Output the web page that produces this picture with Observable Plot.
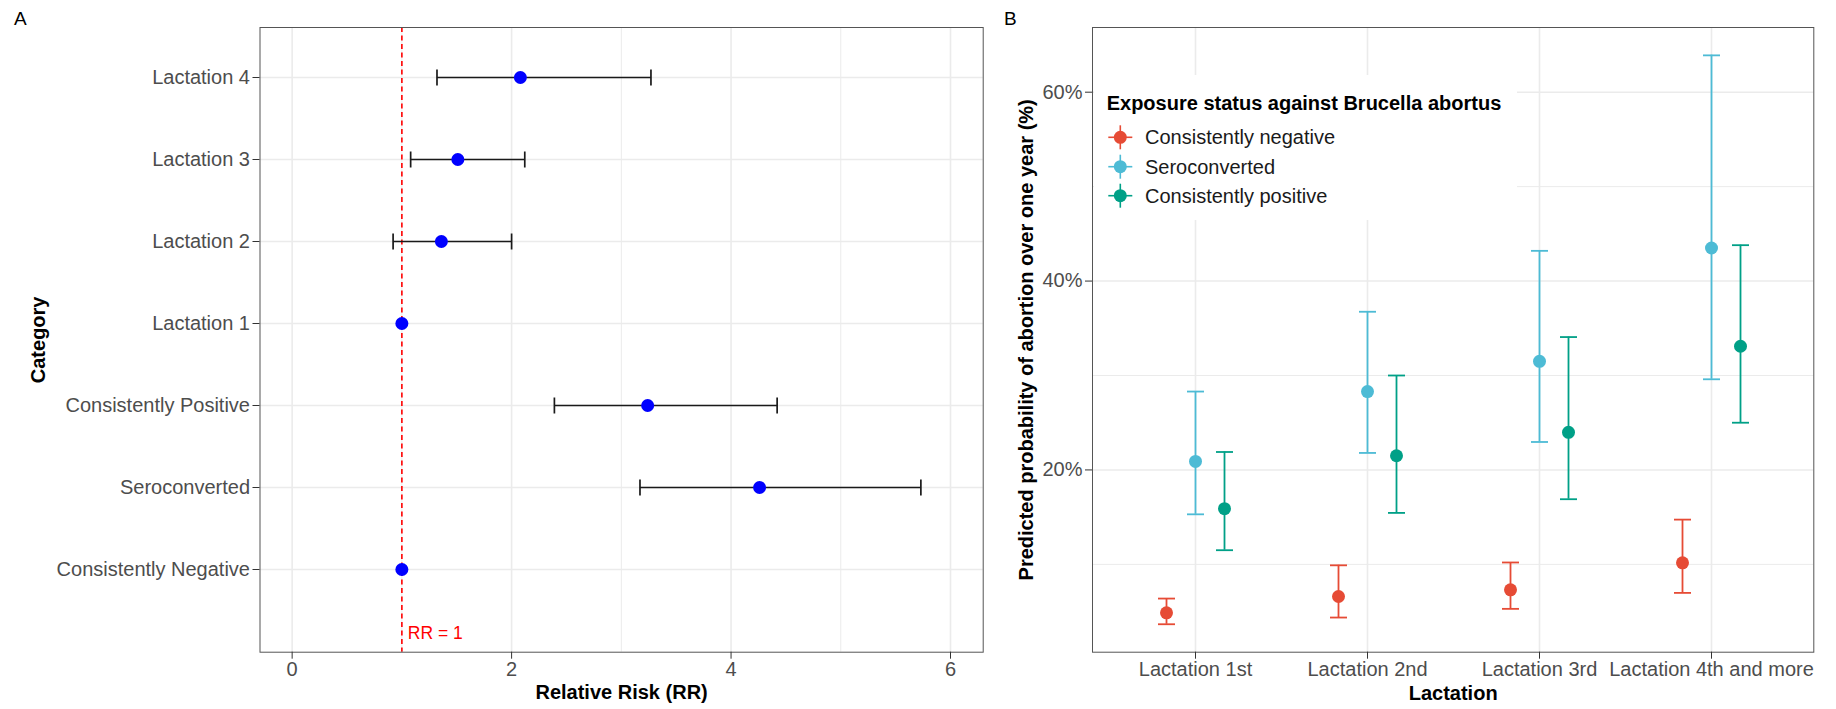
<!DOCTYPE html>
<html><head><meta charset="utf-8">
<script src="https://cdn.jsdelivr.net/npm/d3@7"></script>
<script src="https://cdn.jsdelivr.net/npm/@observablehq/plot@0.6"></script>
<style>
body{margin:0;background:#fff;}
#fig{position:relative;width:1836px;height:709px;font-family:"Liberation Sans",Arial,Helvetica,sans-serif;overflow:hidden;}
#fig > *{position:absolute;}
.tag{font-size:19px;color:#000;line-height:1;}
</style></head><body><div id="fig"></div>
<script>
// ---------- Panel A data ----------
const categoriesA = ["Lactation 4","Lactation 3","Lactation 2","Lactation 1","Consistently Positive","Seroconverted","Consistently Negative"];
const rrEstimate = [2.08, 1.51, 1.36, 1.00, 3.24, 4.26, 1.00];
const rrLower    = [1.32, 1.08, 0.92, null, 2.39, 3.17, null];
const rrUpper    = [3.27, 2.12, 2.00, null, 4.42, 5.73, null];
const referenceRR = 1;
const ticksA = [0, 2, 4, 6];
const minorTicksA = [1, 3, 5];

// ---------- Panel B data ----------
const lactations = ["Lactation 1st","Lactation 2nd","Lactation 3rd","Lactation 4th and more"];
const groups = ["Consistently negative","Seroconverted","Consistently positive"];
const negativeEst  = [4.87, 6.60, 7.30, 10.16];
const negativeLow  = [3.66, 4.37, 5.29, 6.98];
const negativeHigh = [6.38, 9.90, 10.20, 14.74];
const seroEst  = [20.9, 28.3, 31.5, 43.5];
const seroLow  = [15.3, 21.8, 22.96, 29.6];
const seroHigh = [28.3, 36.75, 43.2, 63.9];
const positiveEst  = [15.9, 21.5, 23.98, 33.1];
const positiveLow  = [11.5, 15.45, 16.9, 25.0];
const positiveHigh = [21.9, 30.0, 34.07, 43.8];
const ticksB = [20, 40, 60];
const minorTicksB = [10, 30, 50];

// ---------- style ----------
const FONT = '"Liberation Sans", Arial, Helvetica, sans-serif';
const groupColors = ["#E64B35", "#4DBBD5", "#00A087"];
const dodge = [-29, 0, 29];
const GRID = "#EBEBEB";
// error-bar cap glyphs (custom symbols for Plot.dot)
const capVertical = {draw(ctx) { ctx.moveTo(0, -8); ctx.lineTo(0, 8); }};
const capHorizontal = {draw(ctx) { ctx.moveTo(-8.5, 0); ctx.lineTo(8.5, 0); }};

const fig = document.getElementById("fig");

// ---------- Panel A ----------
const dataA = categoriesA.map((c, i) => ({category: c, rr: rrEstimate[i], lower: rrLower[i], upper: rrUpper[i]}));
const withCI = dataA.filter(d => d.lower != null);

const plotA = Plot.plot({
  width: 990, height: 709,
  marginLeft: 259.5, marginRight: 7.3, marginTop: 27, marginBottom: 57.3,
  style: {fontFamily: FONT, fontSize: "20px", background: "transparent", overflow: "visible"},
  x: {domain: [-0.293, 6.298]},
  y: {type: "point", domain: categoriesA, padding: 0, insetTop: 48.7, insetBottom: 81.7},
  marks: [
    Plot.gridX(minorTicksA, {stroke: GRID, strokeOpacity: 1, strokeWidth: 1}),
    Plot.gridX(ticksA, {stroke: GRID, strokeOpacity: 1, strokeWidth: 1.6}),
    Plot.gridY(categoriesA, {stroke: GRID, strokeOpacity: 1, strokeWidth: 1.6}),
    Plot.ruleX([referenceRR], {stroke: "#FF0000", strokeWidth: 1.6, strokeDasharray: "5,3.5"}),
    Plot.link(withCI, {x1: "lower", x2: "upper", y1: "category", y2: "category", stroke: "#1a1a1a", strokeWidth: 1.7}),
    Plot.dot(withCI, {x: "lower", y: "category", symbol: capVertical, fill: "none", stroke: "#1a1a1a", strokeWidth: 1.7}),
    Plot.dot(withCI, {x: "upper", y: "category", symbol: capVertical, fill: "none", stroke: "#1a1a1a", strokeWidth: 1.7}),
    Plot.dot(dataA, {x: "rr", y: "category", r: 6.5, fill: "#0000FF"}),
    Plot.text([referenceRR], {x: d => d, text: () => "RR = 1", frameAnchor: "bottom", lineAnchor: "middle", dy: -19, dx: 6, textAnchor: "start", fill: "#FF0000", fontSize: 17.5}),
    Plot.frame({stroke: "#555", strokeWidth: 1}),
    Plot.axisX({ticks: ticksA, tickFormat: d3.format("d"), tickSize: 7, tickPadding: 3, label: null, stroke: "#333", fill: "#4D4D4D"}),
    Plot.axisY({tickSize: 7, tickPadding: 3, label: null, stroke: "#333", fill: "#4D4D4D"}),
    Plot.text(["Relative Risk (RR)"], {text: d => d, frameAnchor: "bottom", lineAnchor: "middle", dy: 40, fontWeight: "bold", fill: "#000"}),
    Plot.text(["Category"], {text: d => d, frameAnchor: "left", textAnchor: "middle", lineAnchor: "middle", dx: -221.5, rotate: -90, fontWeight: "bold", fill: "#000"})
  ]
});
plotA.style.left = "0px"; plotA.style.top = "0px";
fig.appendChild(plotA);

// ---------- Panel B ----------
const seriesB = [
  {est: negativeEst, low: negativeLow, high: negativeHigh},
  {est: seroEst, low: seroLow, high: seroHigh},
  {est: positiveEst, low: positiveLow, high: positiveHigh}
].map((s, gi) => lactations.map((l, li) => ({group: groups[gi], lactation: l, est: s.est[li], low: s.low[li], high: s.high[li]})));

const barMarks = seriesB.flatMap((d, gi) => [
  Plot.ruleX(d, {x: "lactation", y1: "low", y2: "high", stroke: groupColors[gi], strokeWidth: 1.8, dx: dodge[gi]}),
  Plot.dot(d, {x: "lactation", y: "low", symbol: capHorizontal, fill: "none", stroke: groupColors[gi], strokeWidth: 1.8, dx: dodge[gi]}),
  Plot.dot(d, {x: "lactation", y: "high", symbol: capHorizontal, fill: "none", stroke: groupColors[gi], strokeWidth: 1.8, dx: dodge[gi]})
]);
const dotMarks = seriesB.map((d, gi) => Plot.dot(d, {x: "lactation", y: "est", r: 6.5, fill: groupColors[gi], dx: dodge[gi]}));

const plotB = Plot.plot({
  width: 846, height: 709,
  marginLeft: 102, marginRight: 22.7, marginTop: 27, marginBottom: 57.3,
  style: {fontFamily: FONT, fontSize: "20px", background: "transparent", overflow: "visible"},
  x: {type: "point", domain: lactations, padding: 0.59},
  y: {domain: [0.70, 66.85]},
  marks: [
    Plot.gridY(minorTicksB, {stroke: GRID, strokeOpacity: 1, strokeWidth: 1}),
    Plot.gridY(ticksB, {stroke: GRID, strokeOpacity: 1, strokeWidth: 1.6}),
    Plot.gridX(lactations, {stroke: GRID, strokeOpacity: 1, strokeWidth: 1.6}),
    ...barMarks,
    ...dotMarks,
    Plot.frame({stroke: "#555", strokeWidth: 1}),
    Plot.axisX({tickSize: 7, tickPadding: 3, label: null, stroke: "#333", fill: "#4D4D4D"}),
    Plot.axisY({ticks: ticksB, tickFormat: d => d + "%", tickSize: 7, tickPadding: 3, label: null, stroke: "#333", fill: "#4D4D4D"}),
    Plot.text(["Lactation"], {text: d => d, frameAnchor: "bottom", lineAnchor: "middle", dy: 41, fontWeight: "bold", fill: "#000"}),
    Plot.text(["Predicted probability of abortion over one year (%)"], {text: d => d, frameAnchor: "left", textAnchor: "middle", lineAnchor: "middle", dx: -66, rotate: -90, fontWeight: "bold", fill: "#000"})
  ]
});
plotB.style.left = "990px"; plotB.style.top = "0px";
fig.appendChild(plotB);

// ---------- Legend (inside panel B) ----------
const legW = 423, legH = 145;
const leg = d3.create("svg").attr("width", legW).attr("height", legH)
  .style("left", "1094px").style("top", "75px").style("background", "#fff")
  .style("font-family", FONT);
leg.append("text").attr("x", 12.7).attr("y", 28.3).attr("dy", "0.35em")
  .attr("font-size", 20).attr("font-weight", "bold").attr("fill", "#000")
  .text("Exposure status against Brucella abortus");
const rows = [62.3, 91.7, 120.7];
groups.forEach((g, i) => {
  const gr = leg.append("g").attr("transform", `translate(26.3,${rows[i]})`);
  gr.append("line").attr("x1", -12).attr("x2", 12).attr("y1", 0).attr("y2", 0).attr("stroke", groupColors[i]).attr("stroke-width", 1.6);
  gr.append("line").attr("x1", 0).attr("x2", 0).attr("y1", -12).attr("y2", 12).attr("stroke", groupColors[i]).attr("stroke-width", 1.6);
  gr.append("circle").attr("r", 6.5).attr("fill", groupColors[i]);
  leg.append("text").attr("x", 51).attr("y", rows[i]).attr("dy", "0.35em")
    .attr("font-size", 20).attr("fill", "#1a1a1a").text(g);
});
fig.appendChild(leg.node());

// ---------- Panel tags ----------
const tagA = document.createElement("div"); tagA.className = "tag"; tagA.textContent = "A";
tagA.style.left = "14px"; tagA.style.top = "9px"; fig.appendChild(tagA);
const tagB = document.createElement("div"); tagB.className = "tag"; tagB.textContent = "B";
tagB.style.left = "1004px"; tagB.style.top = "9px"; fig.appendChild(tagB);
</script>
</body></html>
